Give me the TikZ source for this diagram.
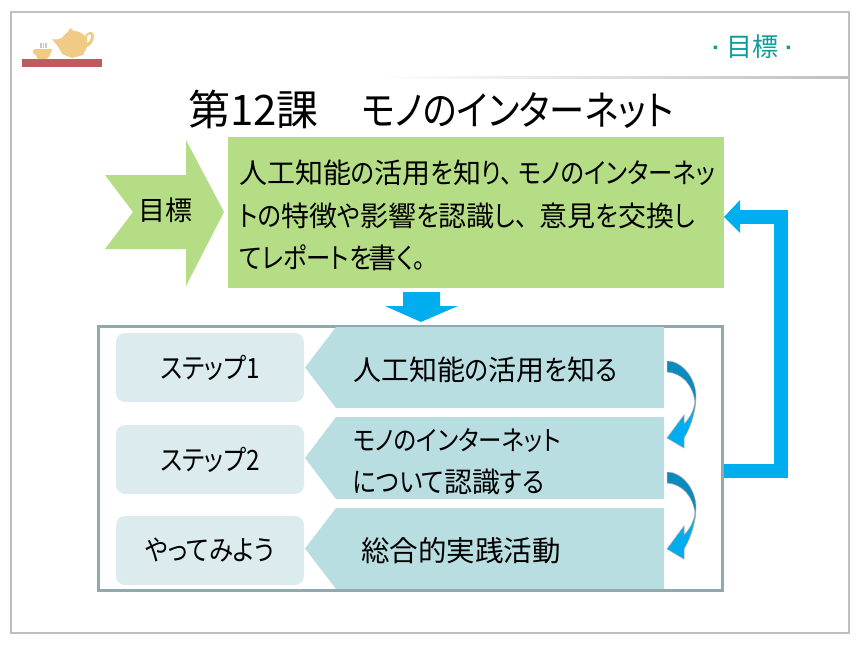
\documentclass[tikz,border=0pt]{standalone}
\usepackage{fontspec}
\setmainfont{Noto Sans CJK JP}[RawFeature={+palt}]
\newfontfamily\kanafont{Noto Sans CJK JP}[RawFeature={+palt},FakeStretch=0.87]
\newcommand{\kn}[1]{{\kanafont #1}}
\definecolor{framegray}{HTML}{BFBFBF}
\definecolor{goalgreen}{HTML}{B5DD85}
\definecolor{stepbg}{HTML}{DBEBEE}
\definecolor{bandbg}{HTML}{B9DEE2}
\definecolor{boxline}{HTML}{8FA9AE}
\definecolor{flowblue}{HTML}{00AEEF}
\definecolor{curvedark}{HTML}{0A8BC0}
\definecolor{teal}{HTML}{0E9C9C}
\definecolor{potcolor}{HTML}{F0CB85}
\definecolor{traycolor}{HTML}{BF5A5F}
\tikzset{
	stepbox/.style={fill=stepbg,rounded corners=9pt,minimum width=188pt,minimum height=69pt,font=\fontsize{28}{32}\selectfont,inner sep=0pt},
	bandtext/.style={anchor=west,align=left,font=\fontsize{28}{42}\selectfont,inner sep=0pt},
	goaltext/.style={anchor=west,inner sep=0pt,font=\fontsize{28}{32}\selectfont},
	curvearrow/.style={draw=gray!70,line width=0.5pt}
}
\begin{document}
\begin{tikzpicture}[x=1pt,y=-1pt]
	\useasboundingbox (0,0) rectangle (860,645);
	\draw[framegray,line width=2.5pt] (11,12) rectangle (849,633);
	\shade[left color=white,right color=framegray] (380,76) rectangle (849,78.5);
	% tray and teapot
	\fill[traycolor] (22,59) rectangle (102,67);
	\fill[potcolor,even odd rule] (52,39) .. controls (56,40) and (59,39) .. (62,38) .. controls (64,35) and (66,33) .. (68,32) -- (70,28) -- (74,31)
		.. controls (78,31) and (82,33) .. (85,36) .. controls (87,31) and (94,30) .. (94,36)
		.. controls (94,42) and (90,46) .. (87,47) -- (83,55) -- (72,58) -- (62,54)
		.. controls (59,47) and (56,44) .. (52,39) -- cycle
		(87,36) .. controls (90,33) and (92,35) .. (91,38) .. controls (90,41) and (88,43) .. (87,43) -- cycle;
	\fill[potcolor] (35,49) -- (52,49) .. controls (51,54) and (49,57) .. (47,59) -- (38,59) .. controls (37,58) and (36,56) .. (36,55) .. controls (32,54) and (32,50) .. (35,49) -- cycle;
	\foreach \x in {41,43.5,46} {
		\draw[gray!45,line width=1.6pt] (\x,43) -- (\x,48);
	}
	\node[teal,inner sep=0pt,font=\fontsize{26}{30}\selectfont] (header) at (752,47) {目標};
	\fill[teal] (713.5,45.5) rectangle (717,49) (786.5,45.5) rectangle (790,49);
	\node[inner sep=0pt,anchor=west,font=\fontsize{42}{48}\selectfont] (title) at (188,109) {第12課\hspace{43pt}{\fontsize{40.5}{48}\selectfont\kn{モノのインターネット}}};
	% goal
	\fill[goalgreen] (105,175) -- (186,175) -- (186,140) -- (224,212) -- (186,286) -- (186,249) -- (105,249) -- (133,212) -- cycle;
	\node[font=\fontsize{27}{32}\selectfont,inner sep=0pt] (goallabel) at (165,210) {目標};
	\node[fill=goalgreen,minimum width=496pt,minimum height=151pt,inner sep=0pt,anchor=north west] (goal) at (228,137) {};
	\node[goaltext] (line1) at (239,173) {人工知能\kn{の}活用\kn{を}知\kn{り、}\hspace{6pt}\kn{モノのインターネッ}};
	\node[goaltext] (line2) at (239,216) {\kn{トの}特徴\kn{や}影響\kn{を}認識\kn{し、}\hspace{12pt}意見\kn{を}交換\kn{し}};
	\node[goaltext] (line3) at (239,258) {\kn{てレポートを}\hspace{-3pt}書\kn{く。}};
	\fill[flowblue] (403,292) -- (440,292) -- (440,306) -- (458,306) -- (421,322) -- (385,306) -- (403,306) -- cycle;
	% steps
	\node[draw=boxline,line width=3pt,minimum width=624pt,minimum height=264pt,inner sep=0pt,anchor=north west] (frame) at (96.5,324.5) {};
	\foreach \y/\h/\w in {327/367.5/408,417/458/499,508/548.5/589} {
		\fill[bandbg] (664,\y) -- (336,\y) -- (305,\h) -- (336,\w) -- (664,\w) -- cycle;
	}
	\node[stepbox] (step1) at (210,367.5) {\kn{ステップ1}};
	\node[stepbox] (step2) at (210,459.5) {\kn{ステップ2}};
	\node[stepbox] (step3) at (210,550.5) {\kn{やってみよう}};
	\node[bandtext] (band1) at (353,370) {人工知能\kn{の}活用\kn{を}知\kn{る}};
	\node[bandtext] (band2) at (353,462) {{\fontsize{27}{42}\selectfont\kn{モノのインターネット}}\\\kn{について}認識\kn{する}};
	\node[bandtext,font=\fontsize{28.5}{42}\selectfont] (band3) at (361,551) {総合的実践活動};
	% feedback arrow
	\coordinate (backstart) at (723.5,471);
	\coordinate (backend) at (740,217);
	\draw[flowblue,line width=14pt] (backstart) -| (780.5,217) -- (backend);
	\fill[flowblue] (backend) ++(0,-17) -- ++(-16,17) -- ++(16,16) -- cycle;
	\foreach \y in {0,111} {
		\begin{scope}[yshift=-\y pt]
			\fill[flowblue,curvearrow] (696,397) .. controls (696,408) and (692,425) .. (684,438) -- (684,448) -- (667,438) -- (684,415) -- (684,424) .. controls (690,418) and (694,410) .. (695,402) -- cycle;
			\fill[curvedark,curvearrow] (667,361) .. controls (682,361) and (696,378) .. (696,397) -- (695,402) .. controls (693,385) and (682,373) .. (667,372) -- cycle;
		\end{scope}
	}
\end{tikzpicture}
\end{document}
